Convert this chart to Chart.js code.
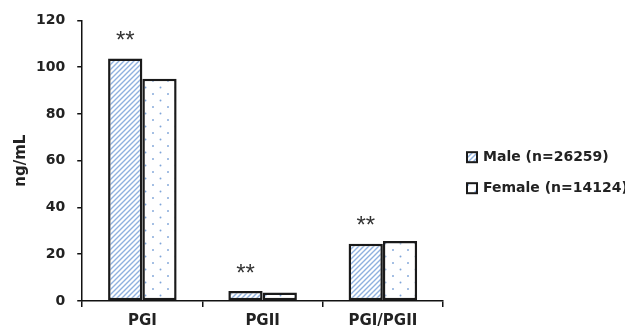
<!DOCTYPE html>
<html><head><meta charset="utf-8">
<script src="https://cdn.jsdelivr.net/npm/chart.js@4/dist/chart.umd.min.js"></script>
<style>html,body{margin:0;padding:0;background:#fff}#wrap{width:625px;height:333px}</style>
</head><body><div id="wrap"><canvas id="c" width="625" height="333"></canvas></div>
<script>
const categories = ['PGI', 'PGII', 'PGI/PGII'];
const maleValues = [103.7, 4.3, 24.5];
const femaleValues = [95.0, 3.6, 25.7];
const seriesNames = ['Male (n=26259)', 'Female (n=14124)'];
const significance = ['**', '**', '**'];
const yTicks = [0, 20, 40, 60, 80, 100, 120];

const FONT = '"DejaVu Sans", sans-serif';

function hatchPattern() {
  const s = 5, cv = document.createElement('canvas');
  cv.width = s; cv.height = s;
  const g = cv.getContext('2d');
  g.fillStyle = '#fff'; g.fillRect(0, 0, s, s);
  g.strokeStyle = '#8fb1df'; g.lineWidth = 1.4;
  g.beginPath();
  g.moveTo(-1, s + 1); g.lineTo(s + 1, -1);
  g.moveTo(-1, 1); g.lineTo(1, -1);
  g.moveTo(s - 1, s + 1); g.lineTo(s + 1, s - 1);
  g.stroke();
  return g.createPattern(cv, 'repeat');
}
function dotPattern() {
  const w = 15, h = 13, cv = document.createElement('canvas');
  cv.width = w; cv.height = h;
  const g = cv.getContext('2d');
  g.fillStyle = '#fff'; g.fillRect(0, 0, w, h);
  g.fillStyle = '#7fa5d8';
  [[3, 3], [10.5, 9.5]].forEach(p => {
    g.beginPath(); g.arc(p[0], p[1], 0.95, 0, Math.PI * 2); g.fill();
  });
  return g.createPattern(cv, 'repeat');
}

const starPlugin = {
  id: 'stars',
  afterDatasetsDraw(chart) {
    const meta = chart.getDatasetMeta(0);
    const ctx = chart.ctx;
    ctx.save();
    ctx.font = '24px "Liberation Sans", sans-serif';
    ctx.fillStyle = '#333';
    ctx.textAlign = 'center';
    ctx.textBaseline = 'middle';
    meta.data.forEach((bar, i) => {
      if (significance[i]) ctx.fillText(significance[i], bar.x, bar.y - 17);
    });
    ctx.restore();
  }
};

const sideLegend = {
  id: 'sideLegend',
  afterDraw(chart) {
    const ctx = chart.ctx, area = chart.chartArea;
    const mid = (area.top + area.bottom) / 2;
    const x = area.right + 24;
    ctx.save();
    ctx.font = 'bold 14px ' + FONT;
    ctx.textBaseline = 'middle';
    ctx.textAlign = 'left';
    chart.data.datasets.forEach((ds, i) => {
      const y = mid - 3.5 + i * 31;
      ctx.fillStyle = ds.backgroundColor;
      ctx.fillRect(x, y - 5, 10, 10);
      ctx.lineWidth = 2;
      ctx.strokeStyle = '#1a1a1a';
      ctx.strokeRect(x, y - 5, 10, 10);
      ctx.fillStyle = '#222';
      ctx.fillText(ds.label, x + 16, y);
    });
    ctx.restore();
  }
};

function draw() {
  new Chart(document.getElementById('c'), {
    type: 'bar',
    data: {
      labels: categories,
      datasets: [
        { label: seriesNames[0], data: maleValues, backgroundColor: hatchPattern(), borderColor: '#1a1a1a', borderWidth: 2.5, borderSkipped: false },
        { label: seriesNames[1], data: femaleValues, backgroundColor: dotPattern(), borderColor: '#1a1a1a', borderWidth: 2.5, borderSkipped: false }
      ]
    },
    options: {
      responsive: false,
      animation: false,
      layout: { padding: { top: 12, right: 182, bottom: -2, left: 12 } },
      datasets: { bar: { categoryPercentage: 0.57, barPercentage: 1.0 } },
      plugins: {
        tooltip: { enabled: false },
        legend: { display: false }
      },
      scales: {
        x: {
          grid: { drawOnChartArea: false, drawTicks: true, tickLength: 6, color: '#111', lineWidth: 1.5 },
          border: { color: '#111', width: 1.5 },
          ticks: { color: '#222', padding: 5, font: { family: FONT, size: 15, weight: 'bold' } }
        },
        y: {
          min: 0, max: 120,
          afterBuildTicks(axis) { axis.ticks = yTicks.map(v => ({ value: v })); },
          grid: { drawOnChartArea: false, drawTicks: true, tickLength: 5, color: '#111', lineWidth: 1.5 },
          border: { color: '#111', width: 1.5 },
          ticks: { color: '#222', padding: 12, font: { family: FONT, size: 14, weight: 'bold' } },
          title: { display: true, text: 'ng/mL', color: '#222', padding: { top: 0, bottom: -6 }, font: { family: FONT, size: 15, weight: 'bold' } }
        }
      }
    },
    plugins: [starPlugin, sideLegend]
  });
}
if (document.fonts && document.fonts.load) {
  Promise.all([
    document.fonts.load('bold 14px "DejaVu Sans"'),
    document.fonts.load('24px "Liberation Sans"')
  ]).then(draw, draw);
} else { draw(); }
</script></body></html>
